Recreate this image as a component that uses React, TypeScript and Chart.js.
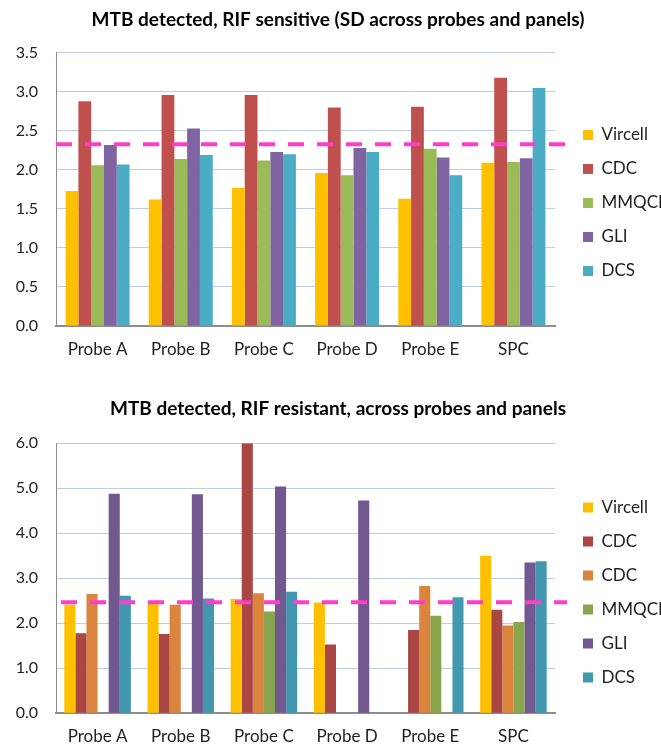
import React, { useEffect, useRef } from "react";
import { Chart, registerables } from "chart.js";

Chart.register(...registerables);

// ---------- data ----------
const categories = ["Probe A", "Probe B", "Probe C", "Probe D", "Probe E", "SPC"];

// Chart 1: RIF sensitive
const sensTitle = "MTB detected, RIF sensitive (SD across probes and panels)";
const sensNames = ["Vircell", "CDC", "MMQCI", "GLI", "DCS"];
const sensVircell = [1.73, 1.62, 1.77, 1.96, 1.63, 2.09];
const sensCDC = [2.88, 2.96, 2.96, 2.8, 2.81, 3.18];
const sensMMQCI = [2.06, 2.14, 2.12, 1.93, 2.27, 2.1];
const sensGLI = [2.32, 2.53, 2.23, 2.28, 2.16, 2.15];
const sensDCS = [2.07, 2.19, 2.2, 2.23, 1.93, 3.05];
const sensThreshold = 2.33;
const sensMax = 3.5;
const sensStep = 0.5;

// Chart 2: RIF resistant
const resTitle = "MTB detected, RIF resistant, across probes and panels";
const resNames = ["Vircell", "CDC", "CDC", "MMQCI", "GLI", "DCS"];
const resVircell = [2.41, 2.45, 2.54, 2.46, null, 3.5];
const resCDC1 = [1.78, 1.76, 6.0, 1.53, 1.85, 2.3];
const resCDC2 = [2.65, 2.41, 2.67, null, 2.83, 1.95];
const resMMQCI = [null, null, 2.26, null, 2.17, 2.03];
const resGLI = [4.88, 4.87, 5.04, 4.73, null, 3.35];
const resDCS = [2.61, 2.55, 2.7, null, 2.58, 3.38];
const resThreshold = 2.47;
const resMax = 6;
const resStep = 1;

// ---------- styles ----------
const sensColors = ["#FFC000", "#C0504D", "#9BBB59", "#8064A2", "#4BACC6"];
const resColors = ["#FFC000", "#AA4643", "#DB843D", "#89A54E", "#71588F", "#4198AF"];
const FONT = "Lato, 'Open Sans', sans-serif";
const TEXT = "#1E1E1E";
const PAD_LEFT = 15;

const refLinePlugin = {
  id: "refLine",
  afterDatasetsDraw(chart: any, _args: any, opts: any) {
    if (opts == null || opts.value == null) return;
    const ctx = chart.ctx;
    const y = chart.scales.y.getPixelForValue(opts.value);
    const { left, right } = chart.chartArea;
    ctx.save();
    ctx.setLineDash(opts.dash);
    ctx.lineWidth = opts.width;
    ctx.strokeStyle = opts.color;
    ctx.beginPath();
    ctx.moveTo(left + (opts.startOffset || 0), y);
    ctx.lineTo(right + opts.extend, y);
    ctx.stroke();
    ctx.restore();
  },
};

type Spec = {
  title: string;
  names: string[];
  series: (number | null)[][];
  colors: string[];
  threshold: number;
  max: number;
  step: number;
  catPct: number;
  titlePad: { top: number; bottom: number };
  legendTitlePad: number;
  xHeight: number;
  startOffset: number;
};

function buildConfig(s: Spec): any {
  return {
    type: "bar",
    data: {
      labels: categories,
      datasets: s.series.map((d, i) => ({
        label: s.names[i],
        data: d,
        backgroundColor: s.colors[i],
        borderWidth: 0,
        categoryPercentage: s.catPct,
        barPercentage: 1,
      })),
    },
    options: {
      responsive: false,
      animation: false,
      devicePixelRatio: 1,
      layout: { padding: { left: PAD_LEFT, right: 0, top: 0, bottom: 0 } },
      scales: {
        x: {
          grid: { display: false, drawTicks: false },
          border: { display: true, color: "#8C8C8C", width: 2 },
          ticks: { font: { family: FONT, size: 17 }, color: TEXT, padding: 13, maxRotation: 0 },
          afterFit: (sc: any) => {
            sc.height = s.xHeight;
          },
        },
        y: {
          min: 0,
          max: s.max,
          grid: { color: "#BCCDE4", lineWidth: 1, drawTicks: false },
          border: { display: true, color: "#8C8C8C", width: 1 },
          ticks: {
            stepSize: s.step,
            font: { family: FONT, size: 16 },
            color: TEXT,
            padding: 18,
            callback: (v: any) => Number(v).toFixed(1),
          },
          afterFit: (sc: any) => {
            sc.width = 56 - PAD_LEFT;
          },
        },
        yR: {
          position: "right",
          display: true,
          grid: { display: false, drawTicks: false },
          border: { display: false },
          ticks: { display: false },
          afterFit: (sc: any) => {
            sc.width = 11;
          },
        },
      },
      plugins: {
        title: {
          display: true,
          text: s.title,
          color: "#000000",
          font: { family: FONT, size: 19, weight: "bold" },
          padding: s.titlePad,
        },
        legend: {
          position: "right",
          fullSize: false,
          maxWidth: 95,
          title: {
            display: true,
            text: " ",
            font: { size: 1 },
            padding: { top: s.legendTitlePad, bottom: 0 },
          },
          labels: {
            boxWidth: 10,
            boxHeight: 10,
            padding: 17,
            color: TEXT,
            font: { family: FONT, size: 17 },
          },
        },
        tooltip: { enabled: false },
        refLine: {
          value: s.threshold,
          color: "#FF3DC8",
          width: 4,
          dash: [16, 13],
          extend: 12,
          startOffset: s.startOffset,
        },
      },
    },
    plugins: [refLinePlugin],
  };
}

function BarChart({ spec, width, height, top }: { spec: Spec; width: number; height: number; top: number }) {
  const ref = useRef<HTMLCanvasElement | null>(null);
  useEffect(() => {
    if (!ref.current) return;
    const chart = new Chart(ref.current, buildConfig(spec));
    return () => chart.destroy();
  }, [spec]);
  return (
    <canvas
      ref={ref}
      width={width}
      height={height}
      style={{ position: "absolute", left: 0, top, width, height, display: "block" }}
    />
  );
}

const sensSpec: Spec = {
  title: sensTitle,
  names: sensNames,
  series: [sensVircell, sensCDC, sensMMQCI, sensGLI, sensDCS],
  colors: sensColors,
  threshold: sensThreshold,
  max: sensMax,
  step: sensStep,
  catPct: 5 / 6.5,
  titlePad: { top: 8, bottom: 22 },
  legendTitlePad: 26,
  xHeight: 46,
  startOffset: 0,
};

const resSpec: Spec = {
  title: resTitle,
  names: resNames,
  series: [resVircell, resCDC1, resCDC2, resMMQCI, resGLI, resDCS],
  colors: resColors,
  threshold: resThreshold,
  max: resMax,
  step: resStep,
  catPct: 6 / 7.5,
  titlePad: { top: 25, bottom: 23.5 },
  legendTitlePad: 27,
  xHeight: 31.7,
  startOffset: 5,
};

export default function App() {
  return (
    <div style={{ position: "absolute", left: 0, top: 0, width: 661, height: 745, background: "#ffffff" }}>
      <BarChart spec={sensSpec} width={661} height={372} top={0} />
      <BarChart spec={resSpec} width={661} height={373} top={372} />
    </div>
  );
}
